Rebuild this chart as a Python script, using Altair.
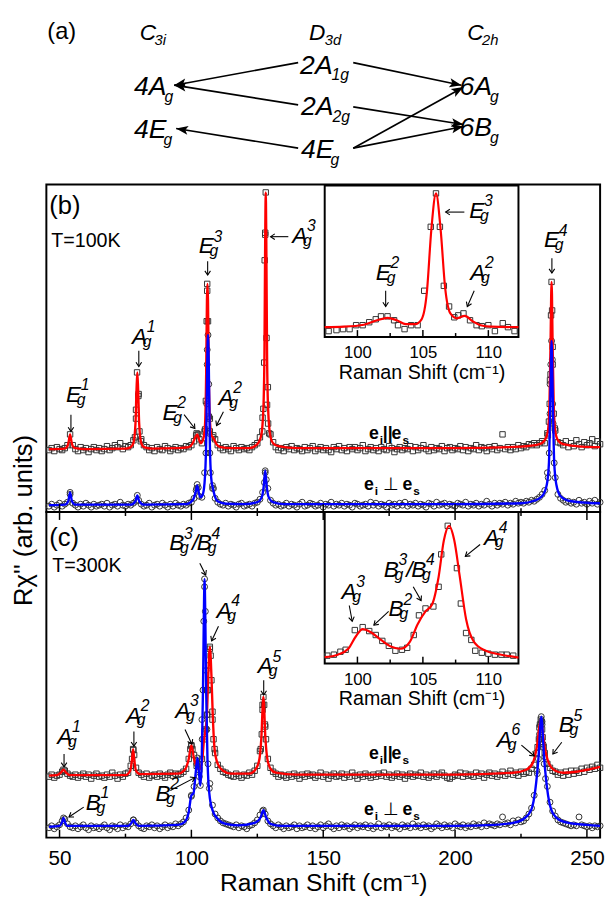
import math
import altair as alt
import pandas as pd

FONT = "Liberation Sans"
W = 563
HA, HB, HC = 171, 333, 331

# ---------------- main spectra: x grid + values ----------------
X_DOMAIN = [45, 255]
GRID_X = list(range(46, 256))
TICK_MAJOR = [50, 100, 150, 200, 250]
TICK_MINOR = [75, 125, 175, 225]
YB_DOMAIN = [0, 333]
YC_DOMAIN = [0, 331]

RED_B = [63,65,62,66,64,63,65,68,79,68, 64,62,66,63,65,61,64,66,63,65, 62,64,67,63,65,68,66,70,64,67,
         66,68,73,104,120,74,68,66,63,65, 62,66,64,63,67,65,62,64,66,63, 65,64,67,66,68,72,80,74,70,82,
         225,95,76,74,68,65,63,66,64,62, 67,65,63,66,64,65,63,66,68,70, 76,96,282,127,79,71,66,63,65,62,
         66,64,67,63,65,64,62,66,63,65, 67,62,64,66,63,65,63,61,66,64, 67,63,65,62,66,64,66,63,65,68,
         62,64,66,63,65,62,66,64,63,67, 65,61,64,66,63,65,64,67,62,66, 63,65,68,64,62,66,63,65,64,67,
         62,65,66,63,65,64,67,63,66,62, 65,64,68,63,66,65,62,66,64,67, 63,65,79,64,66,63,66,64,68,65,
         67,66,69,68,70,68,70,72,70,80, 134,168,83,71,70,68,72,66,70,67, 73,69,66,71,68,70,74,67,72,69]
RED_B_EXTRA = [(78.6,76),(79.0,95),(79.4,142),(79.9,118),(80.3,82),(80.8,72),
               (101.8,78),(102.5,79),(105.2,84),(105.5,113),(105.8,194),(106.0,232),(106.3,194),(106.6,97),
               (107.0,82),(108.3,78),(126.9,82),(127.3,105),(127.6,152),(127.8,256),(128.0,284),(128.2,325),
               (128.5,177),(128.7,109),(129.1,90),(129.5,80),(235.2,78),(235.6,92),(235.9,110),(236.2,140),
               (236.4,200),(236.6,234),(236.8,205),(237.0,150),(237.4,100),(237.8,85)]
BLUE_B = [6,8,5,7,9,6,8,10,20,9, 7,5,8,6,9,7,5,8,6,7, 8,6,9,5,7,8,6,10,7,6, 8,7,9,11,12,8,6,7,9,5,
          7,8,6,9,7,5,8,6,9,7, 6,8,7,9,10,14,24,16,15,40, 165,60,24,14,10,8,7,9,6,8, 7,5,8,9,6,7,8,6,9,10,
          13,20,40,24,12,9,7,8,6,7, 9,6,8,7,5,8,10,6,7,9, 8,6,7,9,5,8,7,10,6,8, 7,9,6,8,7,5,9,8,6,7,
          8,6,10,7,9,6,8,7,5,9, 7,8,6,9,7,10,6,8,7,9, 6,8,7,5,9,8,6,10,7,8, 9,6,8,7,6,9,8,7,10,6,
          8,7,9,6,8,7,11,8,6,9, 7,9,8,10,7,9,8,11,9,10, 9,11,10,12,11,13,15,18,22,40,
          130,110,35,18,14,12,10,11,9,10, 8,12,9,10,8,11,9,12,8,10]
BLUE_B_EXTRA = [(54.0,18),(79.5,17),(101.8,22),(102.2,28),(102.6,25),(105.5,60),(105.8,110),(106.0,150),
                (106.3,180),(106.6,130),(106.8,80),(107.2,40),(108.0,27),(108.4,24),(127.7,30),(128.0,42),
                (128.4,33),(235.3,35),(235.7,60),(236.0,100),(236.3,150),(236.6,174),(236.9,155),(237.2,90),
                (237.6,50)]
RED_B_FIT = [(46,64),(52,64.5),(53,67),(53.5,72),(54,79),(54.5,72),(55,67),(56,65),(60,64),(75,64.5),(77,66),
             (78,70),(78.8,90),(79.2,125),(79.5,142),(79.8,125),(80.2,90),(81,70),(82,66),(85,64.5),(95,65),
             (99,66),(100.5,70),(101.5,76),(102.2,79),(103,73),(103.6,70),(104.5,74),(105.2,90),(105.6,140),
             (105.9,215),(106.1,232),(106.3,215),(106.6,140),(107,95),(107.6,78),(108.2,76),(108.8,73),
             (109.5,69),(111,66),(115,65),(122,65),(125,69),(126.5,78),(127.3,105),(127.7,160),(128.0,280),
             (128.2,325),(128.4,280),(128.7,160),(129.1,105),(129.9,78),(131,70),(133,67),(140,65),(200,65),
             (225,66.5),(232,69),(234,73),(235.2,82),(235.8,110),(236.2,170),(236.6,234),(237,170),(237.4,110),
             (238,82),(239,73),(241,69),(248,66.5),(255,66)]
BLUE_B_FIT = [(46,7),(52,7.5),(53.3,11),(54,20),(54.7,11),(56,7.5),(77,7.5),(78.8,11),(79.5,17),(80.2,11),
              (82,7.5),(98,8),(100.5,12),(101.6,20),(102.2,27),(102.8,20),(103.4,15),(104.2,17),(105,30),
              (105.6,70),(106.0,150),(106.3,180),(106.6,150),(107.0,70),(107.5,35),(108.1,25),(108.8,17),
              (110,11),(113,8.5),(120,8),(125,10),(126.8,16),(127.5,28),(128.0,42),(128.5,28),(129.2,16),
              (131,10),(135,8),(200,8),(225,9),(230,11.5),(233,16),(234.8,28),(235.6,50),(236.1,110),
              (236.6,174),(237.1,110),(237.6,50),(238.4,28),(240,16),(243,11.5),(250,9.5),(255,9)]

RED_C = [62,64,61,63,64,67,68,65,63,62, 64,61,63,65,62,64,60,63,65,62, 63,61,64,62,66,63,60,64,62,65,
         66,73,89,71,66,64,62,65,61,63, 64,62,65,63,61,64,66,63,65,64, 65,67,70,80,93,84,73,69,80,108,
         150,192,128,86,74,70,67,66,64,63, 62,65,63,61,64,63,66,64,68,73, 88,135,113,80,71,67,65,62,64,63,
         61,64,62,65,63,60,64,62,65,63, 64,61,63,66,62,64,60,63,65,62, 63,65,61,64,62,66,63,60,64,62,
         65,63,61,64,62,65,63,66,62,64, 61,63,65,62,64,60,63,65,62,64, 63,66,62,64,61,63,65,62,64,66,
         63,61,60,62,64,63,66,62,65,63, 64,62,66,63,65,61,64,66,63,65, 62,64,67,63,65,68,64,66,63,67,
         65,67,66,70,74,86,112,110,86,75, 71,68,67,64,66,63,67,64,68,65, 68,66,70,67,71,69,72,70,74,71]
RED_C_EXTRA = [(51.5,69),(77.5,80),(77.9,90),(78.3,84),(99.6,90),(100.0,94),(100.4,90),(104.7,100),(105.5,110),
               (105.9,125),(106.3,150),(106.6,175),(107.0,194),(107.3,185),(107.6,160),(108.0,120),(108.4,100),
               (108.8,90),(126.3,90),(126.7,105),(127.0,130),(127.3,143),(127.6,135),(127.9,115),(128.3,100),
               (231.3,92),(231.8,100),(232.2,115),(232.5,120),(232.8,118),(233.2,102),(233.6,92)]
BLUE_C = [10,12,9,11,13,17,19,14,11,10, 12,9,11,13,10,8,12,10,11,9, 11,13,10,8,12,11,9,13,10,12,
          11,14,18,15,12,10,9,12,11,13, 10,12,9,11,13,10,12,11,14,12, 14,16,20,28,42,52,78,62,120,255,
          125,55,33,24,20,17,15,14,13,12, 11,13,10,12,11,9,12,13,15,18, 23,27,24,17,14,12,10,13,11,9,
          12,10,11,13,9,12,10,11,13,10, 12,9,11,13,10,12,14,11,9,12, 10,13,11,12,9,11,13,10,12,11,
          13,10,12,9,11,14,10,12,11,13, 10,12,11,9,13,11,12,10,14,11, 12,10,13,11,12,9,11,14,12,10,
          13,11,12,10,14,12,11,13,10,12, 11,14,12,13,11,15,12,14,13,12, 14,13,21,14,15,13,17,15,18,16,
          17,20,24,30,43,68,105,118,82,52, 36,27,22,18,16,15,14,13,12,13, 12,21,13,12,11,12,10,12,11,12]
BLUE_C_EXTRA = [(51.5,20),(78.0,18),(100.0,43),(102.0,75),(102.3,81),(102.6,75),(103.4,53),(104.1,100),
                (104.4,150),(104.7,220),(105.0,263),(105.3,230),(105.6,170),(105.9,110),(106.3,75),(106.8,50),
                (127.3,28),(231.2,65),(231.6,80),(232.0,100),(232.4,115),(232.7,123),(233.0,115),(233.4,95),
                (233.8,75),(234.3,60)]
RED_C_FIT = [(46,63),(49,63.5),(50.5,66),(51.5,69),(52.5,66),(54,63.5),(75,63.5),(76.8,68),(77.5,80),(77.9,90),
             (78.3,80),(79,68),(80.5,64.5),(95,65),(97.5,69),(99,80),(100,94),(101,80),(102,72),(103,69),(104,76),
             (104.8,100),(105.4,110),(105.9,125),(106.4,165),(107,194),(107.6,165),(108.1,125),(108.8,90),(110,75),
             (112,68),(115,65),(122,65),(124.5,70),(125.8,80),(126.5,100),(127.3,143),(128.1,100),(128.8,80),
             (130,70),(132,66),(140,64),(200,64),(222,66),(227,69),(229.5,76),(231,92),(232.5,120),(234,92),
             (235.5,76),(238,68),(241,66),(246,67),(250,69),(255,72)]
BLUE_C_FIT = [(46,11),(50,12),(51,16),(51.5,20),(52,16),(53,12),(76,12),(77.3,15),(78,18),(78.7,15),(80,12),
              (95,13),(97.5,16),(99,26),(100,43),(100.8,45),(101.6,65),(102.3,81),(102.9,65),(103.4,53),
              (103.9,75),(104.4,150),(104.7,220),(105.0,263),(105.3,220),(105.6,150),(106.1,80),(106.8,45),
              (108,28),(110,19),(113,14),(118,12.5),(124,15),(126.3,21),(127.3,28),(128.3,21),(130,14),(134,12),
              (200,12),(215,13),(222,15),(226,19),(229,29),(230.5,50),(231.6,80),(232.7,123),(233.8,80),
              (234.9,50),(236.4,29),(239,19),(243,15),(250,13),(255,12)]

# ---------------- insets ----------------
INSET_X_DOMAIN = [97.5, 112.3]
INSET_X_RANGE = [283, 480]
INSET_TICK_MAJOR = [100, 105, 110]
INSET_TICK_MINOR = [102.5, 107.5]
INSET_B_YDOM, INSET_B_YRANGE = [0, 154], [155, 1]
INSET_C_YDOM, INSET_C_YRANGE = [0, 154], [154, 0]

INSET_B_X = [97.8,98.4,98.9,99.4,99.9,100.4,100.9,101.4,101.8,102.3,102.8,103.1,103.6,104.1,104.6,105.1,
             105.6,106.0,106.3,106.6,107.0,107.4,107.7,108.1,108.6,109.1,109.5,110.0,110.5,111.1,111.5,112.0]
INSET_B_Y = [6,7,8,8,12,12,15,18,21,21,17,12,8,12,12,47,112,146,112,52,31,20,22,24,17,12,11,12,6,14,10,6]
INSET_B_FIT = [(97.5,10),(99,10.5),(100.5,12.5),(101.5,17),(102.3,19.5),(103,17),(103.7,13),(104.4,13),
               (104.9,18),(105.3,45),(105.65,110),(106.0,146),(106.35,110),(106.7,50),(107.1,24),(107.6,19),
               (108.2,21.5),(108.8,16),(109.4,12),(110.2,10.5),(112.3,10)]
INSET_C_X = [97.7,98.2,98.7,99.1,99.8,100.4,100.9,101.4,101.9,102.4,102.9,103.4,103.8,104.3,104.7,105.2,
             105.8,106.2,106.4,106.9,107.6,107.9,108.3,108.7,109.0,109.5,110.0,110.5,111.0,111.4,111.9]
INSET_C_Y = [8,9,12,14,34,37,33,29,23,18,13,14,16,29,49,56,58,78,111,140,97,61,31,24,13,11,10,9,9,9,8]
INSET_C_FIT = [(97.5,6.5),(98.5,9),(99.3,15),(99.9,28),(100.4,35),(101,32),(101.8,24),(102.6,17),(103.3,15),
               (104,22),(104.6,40),(105.2,53),(105.7,60),(106.2,88),(106.6,125),(107.0,140),(107.4,125),
               (107.8,90),(108.3,45),(108.9,22),(109.8,13),(110.8,9.5),(112.3,6)]

# ---------------- annotations: (letter, sup, sub, x, y) and arrows (x1, y1, x2 tip, y2 tip) -------------
LABELS_B = [("E","1","g",52.46,112),("A","1","g",77.45,171),("E","2","g",89.01,94),("E","3","g",102.81,263),
            ("A","2","g",110.27,109),("A","3","g",138.25,274),("E","4","g",233.74,269)]
LABELS_B_IN = [("E","3","g",205.39,299),("E","2","g",169.95,236),("A","2","g",205.76,236)]
ARROWS_B = [(54.32,99,54.32,82),(80.06,164,80.06,148),(97.22,99,101.32,85),(106.17,255,106.17,241),
            (112.14,102,109.53,88),(136.76,280,130.04,280),(236.72,258,236.72,243)]
ARROWS_B_IN = [(203.52,305,196.43,305),(173.68,225,173.68,209),(207.25,225,204.64,209)]
LABELS_C = [("A","1","g",49.10,95),("A","2","g",75.21,117),("A","3","g",93.86,122),("B","3","g",91.62,292),
            ("/","","",100.20,292),("B","4","g",102.07,292),("A","4","g",109.53,223),("A","5","g",125.19,167),
            ("B","2","g",86.40,37),("B","1","g",59.92,28),("A","6","g",215.83,92),("B","5","g",239.33,107)]
LABELS_C_IN = [("A","4","g",210.98,298),("B","3","g",172.94,265),("/","","",181.52,265),("B","4","g",183.38,265),
               ("A","3","g",156.90,243),("B","2","g",174.80,225)]
ARROWS_C = [(51.71,85,51.71,72),(78.20,108,78.20,93),(97.59,110,100.20,95),(103.19,279,105.43,267),
            (110.27,215,107.66,200),(127.43,160,127.43,145),(92.00,48,101.32,61),(59.17,31,53.58,21),
            (225.16,94,230.01,83),(240.45,97,237.09,85)]
ARROWS_C_IN = [(209.49,298,203.89,286),(184.13,255,187.11,241),(159.88,236,161.00,220),(174.80,230,169.21,216)]
PTEXT_B = [("(b)",46.12,303,26),("T=100K",46.86,270,20)]
PTEXT_C = [("(c)",46.12,297,26),("T=300K",47.24,270,20)]
EPAR_B, EPERP_B = (167.34, 74), (165.48, 22)
EPAR_C, EPERP_C = (167.34, 80), (165.48, 23)
EPAR_PIECES = [("e",18,0,0,"bold"),("i",12,11,5,"bold"),("||",18,14,0,"bold"),("e",18,23,0,"bold"),("s",12,34,5,"bold")]
EPERP_PIECES = [("e",18,0,0,"bold"),("i",12,11,5,"bold"),("\u22a5",18,19,0,"normal"),("e",18,39,0,"bold"),("s",12,50,5,"bold")]

# ---------------- panel (a) diagram ----------------
HEAD_MAIN = ["C", "D", "C"]
HEAD_SUB = ["3i", "3d", "2h"]
HEAD_X = [95, 267, 428]
HEAD_SUB_X = [110, 283, 443]
HEAD_Y, HEAD_SUB_Y = 24, 29
NODE_MAIN = ["4A", "2A", "6A", "2A", "4E", "6B", "4E"]
NODE_SUB = ["g", "1g", "g", "2g", "g", "g", "g"]
NODE_X = [89, 258, 420, 259, 89, 420, 259]
NODE_SUB_X = [120, 290, 451, 291, 119, 451, 289]
NODE_Y = [80, 59, 80, 100, 124, 122, 144]
NODE_SUB_Y = [87, 65, 87, 107, 131, 129, 151]
EDGE_X1 = [256, 256, 256, 312, 312, 312, 312]
EDGE_Y1 = [47, 90, 134, 47, 92, 134, 134]
EDGE_X2 = [130, 130, 132, 422, 424, 424, 424]
EDGE_Y2 = [70, 70, 114, 70, 110, 72, 112]

HEAD_PATH = "M-0.6,0.9L0,0L0.6,0.9"


def pairs_df(pairs):
    return pd.DataFrame({"x": [p[0] for p in pairs], "y": [p[1] for p in pairs]})


def scatter_df(grid, extra):
    return pd.DataFrame({"x": GRID_X + [p[0] for p in extra], "y": list(grid) + [p[1] for p in extra]})


def txt(**kw):
    base = dict(font=FONT, color="black")
    base.update(kw)
    return base


def panel_a():
    xs = alt.Scale(domain=[0, W], nice=False, zero=False)
    ys = alt.Scale(domain=[0, HA], nice=False, zero=False, reverse=True)
    X = lambda f: alt.X(f, type="quantitative", scale=xs, axis=None)
    Y = lambda f: alt.Y(f, type="quantitative", scale=ys, axis=None)
    heads = pd.DataFrame({"t": HEAD_MAIN, "s": HEAD_SUB, "x": HEAD_X, "sx": HEAD_SUB_X,
                          "y": [HEAD_Y] * 3, "sy": [HEAD_SUB_Y] * 3})
    nodes = pd.DataFrame({"t": NODE_MAIN, "s": NODE_SUB, "x": NODE_X, "sx": NODE_SUB_X,
                          "y": NODE_Y, "sy": NODE_SUB_Y})
    edges = pd.DataFrame({"x": EDGE_X1, "y": EDGE_Y1, "x2": EDGE_X2, "y2": EDGE_Y2})
    rows = []
    for x1, y1, x2, y2 in zip(EDGE_X1, EDGE_Y1, EDGE_X2, EDGE_Y2):
        dx, dy = x2 - x1, y2 - y1
        L = math.hypot(dx, dy)
        ux, uy = dx / L, dy / L
        rows.append({"x": x2 - ux * 6, "y": y2 - uy * 6,
                     "a": math.degrees(math.atan2(ux, -uy)) % 360})
    tips = pd.DataFrame(rows)
    lab = pd.DataFrame({"t": ["(a)"], "x": [1], "y": [23]})
    it = dict(align="left", baseline="alphabetic", fontStyle="italic")
    layers = [
        alt.Chart(heads).mark_text(**txt(fontSize=23, **it)).encode(x=X("x"), y=Y("y"), text="t:N"),
        alt.Chart(heads).mark_text(**txt(fontSize=15, **it)).encode(x=X("sx"), y=Y("sy"), text="s:N"),
        alt.Chart(nodes).mark_text(**txt(fontSize=27, **it)).encode(x=X("x"), y=Y("y"), text="t:N"),
        alt.Chart(nodes).mark_text(**txt(fontSize=16, **it)).encode(x=X("sx"), y=Y("sy"), text="s:N"),
        alt.Chart(lab).mark_text(**txt(fontSize=24, align="left", baseline="alphabetic")).encode(
            x=X("x"), y=Y("y"), text="t:N"),
        alt.Chart(edges).mark_rule(color="black", strokeWidth=1.7).encode(
            x=X("x"), y=Y("y"), x2="x2:Q", y2="y2:Q"),
        alt.Chart(tips).mark_point(shape="M0,-1L0.75,1L0,0.55L-0.75,1Z", filled=True, color="black",
                                   size=150, opacity=1).encode(
            x=X("x"), y=Y("y"), angle=alt.Angle("a:Q", scale=None)),
    ]
    return alt.layer(*layers).properties(width=W, height=HA, view=alt.ViewBackground(stroke="transparent"))


def annot_layers(xs, ysc, x_axis, y_axis, labels, arrows, px_x):
    X = alt.X("x:Q", scale=xs, axis=x_axis)
    Y = alt.Y("y:Q", scale=ysc, axis=y_axis)
    lab_df = pd.DataFrame(labels, columns=["t", "sup", "sub", "x", "y"])
    it = dict(align="left", baseline="alphabetic", fontStyle="italic")
    out = [
        alt.Chart(lab_df).mark_text(**txt(fontSize=23, **it)).encode(x=X, y=Y, text="t:N"),
        alt.Chart(lab_df).mark_text(**txt(fontSize=16, dx=15, dy=-12, **it)).encode(x=X, y=Y, text="sup:N"),
        alt.Chart(lab_df).mark_text(**txt(fontSize=16, dx=11, dy=3, **it)).encode(x=X, y=Y, text="sub:N"),
    ]
    rows = []
    for x1, y1, x2, y2 in arrows:
        dxp, dyp = (x2 - x1) * px_x, -(y2 - y1)
        rows.append({"x": x1, "y": y1, "x2": x2, "y2": y2,
                     "a": math.degrees(math.atan2(dxp, -dyp)) % 360})
    adf = pd.DataFrame(rows)
    out += [
        alt.Chart(adf).mark_rule(color="black", strokeWidth=1.1).encode(x=X, y=Y, x2="x2:Q", y2="y2:Q"),
        alt.Chart(adf).mark_point(shape=HEAD_PATH, filled=False, color="black", strokeWidth=1.1, size=90,
                                  opacity=1).encode(
            x=alt.X("x2:Q", scale=xs, axis=x_axis), y=alt.Y("y2:Q", scale=ysc, axis=y_axis),
            angle=alt.Angle("a:Q", scale=None)),
    ]
    return out


def panel(H, ydom, red, red_x, blue, blue_x, red_fit, blue_fit, labels, arrows, labels_in, arrows_in,
          ptexts, epar, eperp, ins_x, ins_y, ins_fit, ins_ydom, ins_yrange, x_axis, y_axis, top_ticks):
    xs = alt.Scale(domain=X_DOMAIN, nice=False, zero=False)
    ysc = alt.Scale(domain=ydom, nice=False, zero=False)
    X = alt.X("x:Q", scale=xs, axis=x_axis)
    Y = alt.Y("y:Q", scale=ysc, axis=y_axis)
    px_x = W / (X_DOMAIN[1] - X_DOMAIN[0])

    pt_df = pd.DataFrame(ptexts, columns=["t", "x", "y", "fs"])

    main = [
        alt.Chart(scatter_df(red, red_x)).mark_point(shape="square", filled=False, size=30, color="#333333",
                                                     strokeWidth=1, opacity=1).encode(x=X, y=Y),
        alt.Chart(scatter_df(blue, blue_x)).mark_point(shape="circle", filled=False, size=36, color="#333333",
                                                       strokeWidth=1, opacity=1).encode(x=X, y=Y),
        alt.Chart(pairs_df(red_fit)).mark_line(color="#ff0000", strokeWidth=2.4, interpolate="monotone").encode(x=X, y=Y),
        alt.Chart(pairs_df(blue_fit)).mark_line(color="#0000ff", strokeWidth=2.4, interpolate="monotone").encode(x=X, y=Y),
        alt.Chart(pt_df).mark_text(**txt(align="left", baseline="alphabetic")).encode(
            x=X, y=Y, text="t:N", size=alt.Size("fs:Q", scale=None, legend=None)),
    ]
    main += annot_layers(xs, ysc, x_axis, y_axis, labels, arrows, px_x)
    main += annot_layers(xs, ysc, x_axis, y_axis, labels_in, arrows_in, px_x)
    for pos, pieces in ((epar, EPAR_PIECES), (eperp, EPERP_PIECES)):
        df = pd.DataFrame({"x": [pos[0]], "y": [pos[1]]})
        for t, fs, dx, dy, fw in pieces:
            main.append(alt.Chart(df).mark_text(**txt(text=t, fontSize=fs, fontWeight=fw, dx=dx, dy=dy,
                                                       align="left", baseline="alphabetic")).encode(x=X, y=Y))
    maj = pd.DataFrame({"x": TICK_MAJOR})
    mnr = pd.DataFrame({"x": TICK_MINOR})
    main += [
        alt.Chart(maj).mark_rule(color="black", strokeWidth=1.5).encode(x=X, y=alt.value(H), y2=alt.value(H - 8)),
        alt.Chart(mnr).mark_rule(color="black", strokeWidth=1.5).encode(x=X, y=alt.value(H), y2=alt.value(H - 4)),
    ]
    if top_ticks:
        main += [
            alt.Chart(maj).mark_rule(color="black", strokeWidth=1.5).encode(x=X, y=alt.value(0), y2=alt.value(8)),
            alt.Chart(mnr).mark_rule(color="black", strokeWidth=1.5).encode(x=X, y=alt.value(0), y2=alt.value(4)),
        ]

    ixs = alt.Scale(domain=INSET_X_DOMAIN, range=INSET_X_RANGE, nice=False, zero=False)
    iys = alt.Scale(domain=ins_ydom, range=ins_yrange, nice=False, zero=False)
    ib = ins_yrange[0]
    iax = alt.Axis(orient="bottom", offset=-(H - ib), values=INSET_TICK_MAJOR, format="d", ticks=False,
                   domain=False, grid=False, labelFont=FONT, labelFontSize=17, labelColor="black",
                   labelPadding=8, title="Raman Shift (cm\u207b\u00b9)", titleFont=FONT, titleFontSize=20,
                   titleFontWeight="normal", titleColor="black", titlePadding=2)
    IX = alt.X("x:Q", scale=ixs, axis=iax)
    IY = alt.Y("y:Q", scale=iys, axis=None)
    one = pd.DataFrame({"k": [0]})
    imaj = pd.DataFrame({"x": INSET_TICK_MAJOR})
    imnr = pd.DataFrame({"x": INSET_TICK_MINOR})
    inset = [
        alt.Chart(one).mark_rect(fill="white", stroke="black", strokeWidth=2).encode(
            x=alt.value(INSET_X_RANGE[0]), x2=alt.value(INSET_X_RANGE[1]),
            y=alt.value(ins_yrange[1]), y2=alt.value(ins_yrange[0])),
        alt.Chart(pd.DataFrame({"x": ins_x, "y": ins_y})).mark_point(
            shape="square", filled=False, size=30, color="#333333", strokeWidth=1, opacity=1).encode(x=IX, y=IY),
        alt.Chart(pairs_df(ins_fit)).mark_line(color="#ff0000", strokeWidth=2.2, interpolate="monotone").encode(x=IX, y=IY),
        alt.Chart(imaj).mark_rule(color="black", strokeWidth=1.5).encode(x=IX, y=alt.value(ib), y2=alt.value(ib - 7)),
        alt.Chart(imnr).mark_rule(color="black", strokeWidth=1.5).encode(x=IX, y=alt.value(ib), y2=alt.value(ib - 4)),
    ]
    return alt.layer(alt.layer(*inset), alt.layer(*main)).resolve_scale(
        x="independent", y="independent").properties(width=W, height=H)


y_axis_b = alt.Axis(orient="left", title="R\u03c7'' (arb. units)", labels=False, ticks=False, domain=False,
                    grid=False, titleFont=FONT, titleFontSize=26, titleFontWeight="normal", titleColor="black",
                    titleX=-10, titleY=341, titleBaseline="bottom", titleAngle=270)
x_axis_c = alt.Axis(orient="bottom", values=TICK_MAJOR, format="d", ticks=False, domain=False, grid=False,
                    labelFont=FONT, labelFontSize=21, labelColor="black", labelPadding=10,
                    title="Raman Shift (cm\u207b\u00b9)", titleFont=FONT, titleFontSize=25,
                    titleFontWeight="normal", titleColor="black", titlePadding=3)

pb = panel(HB, YB_DOMAIN, RED_B, RED_B_EXTRA, BLUE_B, BLUE_B_EXTRA, RED_B_FIT, BLUE_B_FIT,
           LABELS_B, ARROWS_B, LABELS_B_IN, ARROWS_B_IN,
           PTEXT_B, EPAR_B, EPERP_B, INSET_B_X, INSET_B_Y, INSET_B_FIT, INSET_B_YDOM, INSET_B_YRANGE,
           None, y_axis_b, False)
pc = panel(HC, YC_DOMAIN, RED_C, RED_C_EXTRA, BLUE_C, BLUE_C_EXTRA, RED_C_FIT, BLUE_C_FIT,
           LABELS_C, ARROWS_C, LABELS_C_IN, ARROWS_C_IN,
           PTEXT_C, EPAR_C, EPERP_C, INSET_C_X, INSET_C_Y, INSET_C_FIT, INSET_C_YDOM, INSET_C_YRANGE,
           x_axis_c, None, True)

chart = alt.vconcat(panel_a(), pb, pc, spacing=0, bounds="flush").properties(
    padding={"left": 2, "top": 0, "right": 0, "bottom": 0}, background="white"
).configure_view(stroke="black", strokeWidth=2)

chart.save("out.html", embed_options={"renderer": "svg", "actions": False})
